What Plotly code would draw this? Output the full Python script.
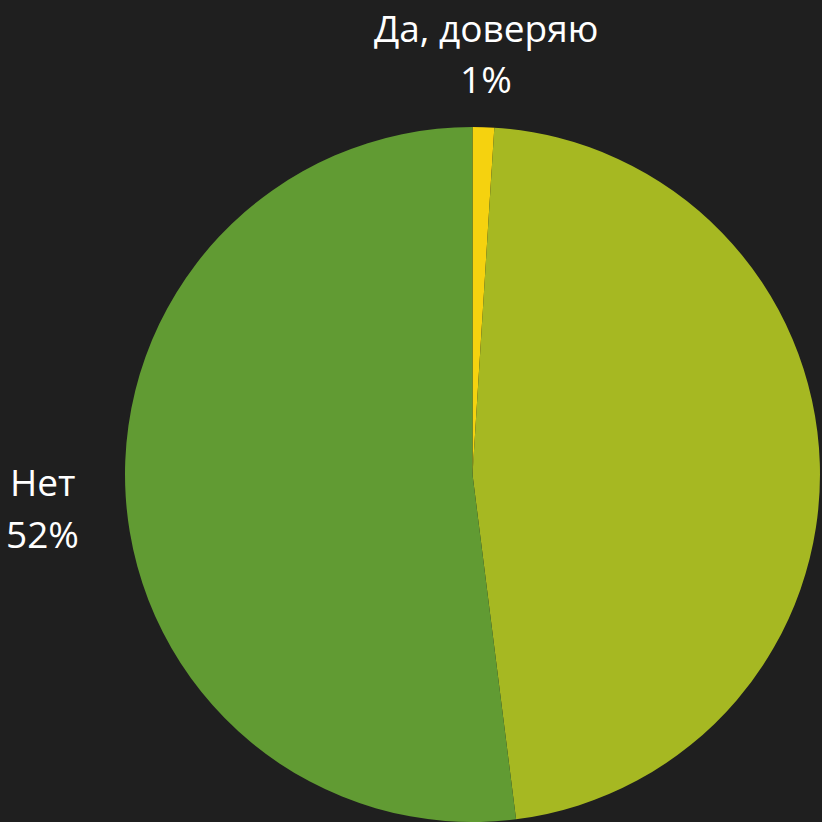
import plotly.graph_objects as go

labels = ["Да, доверяю", "Отчасти", "Нет"]
values = [1, 47, 52]
colors = ["#f5d20f", "#a6b822", "#619b33"]

W = H = 822
total = sum(values)
pcts = [f"{round(v / total * 100)}%" for v in values]

fig = go.Figure(go.Pie(
    labels=labels,
    values=values,
    sort=False,
    direction="clockwise",
    rotation=0,
    marker=dict(colors=colors, line=dict(width=0)),
    textinfo="none",
    domain=dict(x=[123 / W, 1.0], y=[0.0, (H - 127) / H]),
    showlegend=False,
    hoverinfo="skip",
))

# outside labels as annotations (label line and percent line); middle slice label lies off-canvas
label_pos = {0: (486, 27, 78), 2: (42, 482, 533)}
font = dict(family="Open Sans", size=37, color="#ffffff")
for i, (xp, y1, y2) in label_pos.items():
    fig.add_annotation(x=xp / W, y=1 - y1 / H, xref="paper", yref="paper",
                       text=labels[i], showarrow=False, font=font,
                       xanchor="center", yanchor="middle")
    fig.add_annotation(x=xp / W, y=1 - y2 / H, xref="paper", yref="paper",
                       text=pcts[i], showarrow=False, font=font,
                       xanchor="center", yanchor="middle")

fig.update_layout(
    width=W, height=H,
    margin=dict(l=0, r=0, t=0, b=0),
    paper_bgcolor="#1f1f1f",
    plot_bgcolor="#1f1f1f",
)

fig.write_html("out.html",
               config={"displayModeBar": False},
               post_script="document.body.style.margin='0';document.body.style.background='#1f1f1f';document.body.style.overflow='hidden';")
